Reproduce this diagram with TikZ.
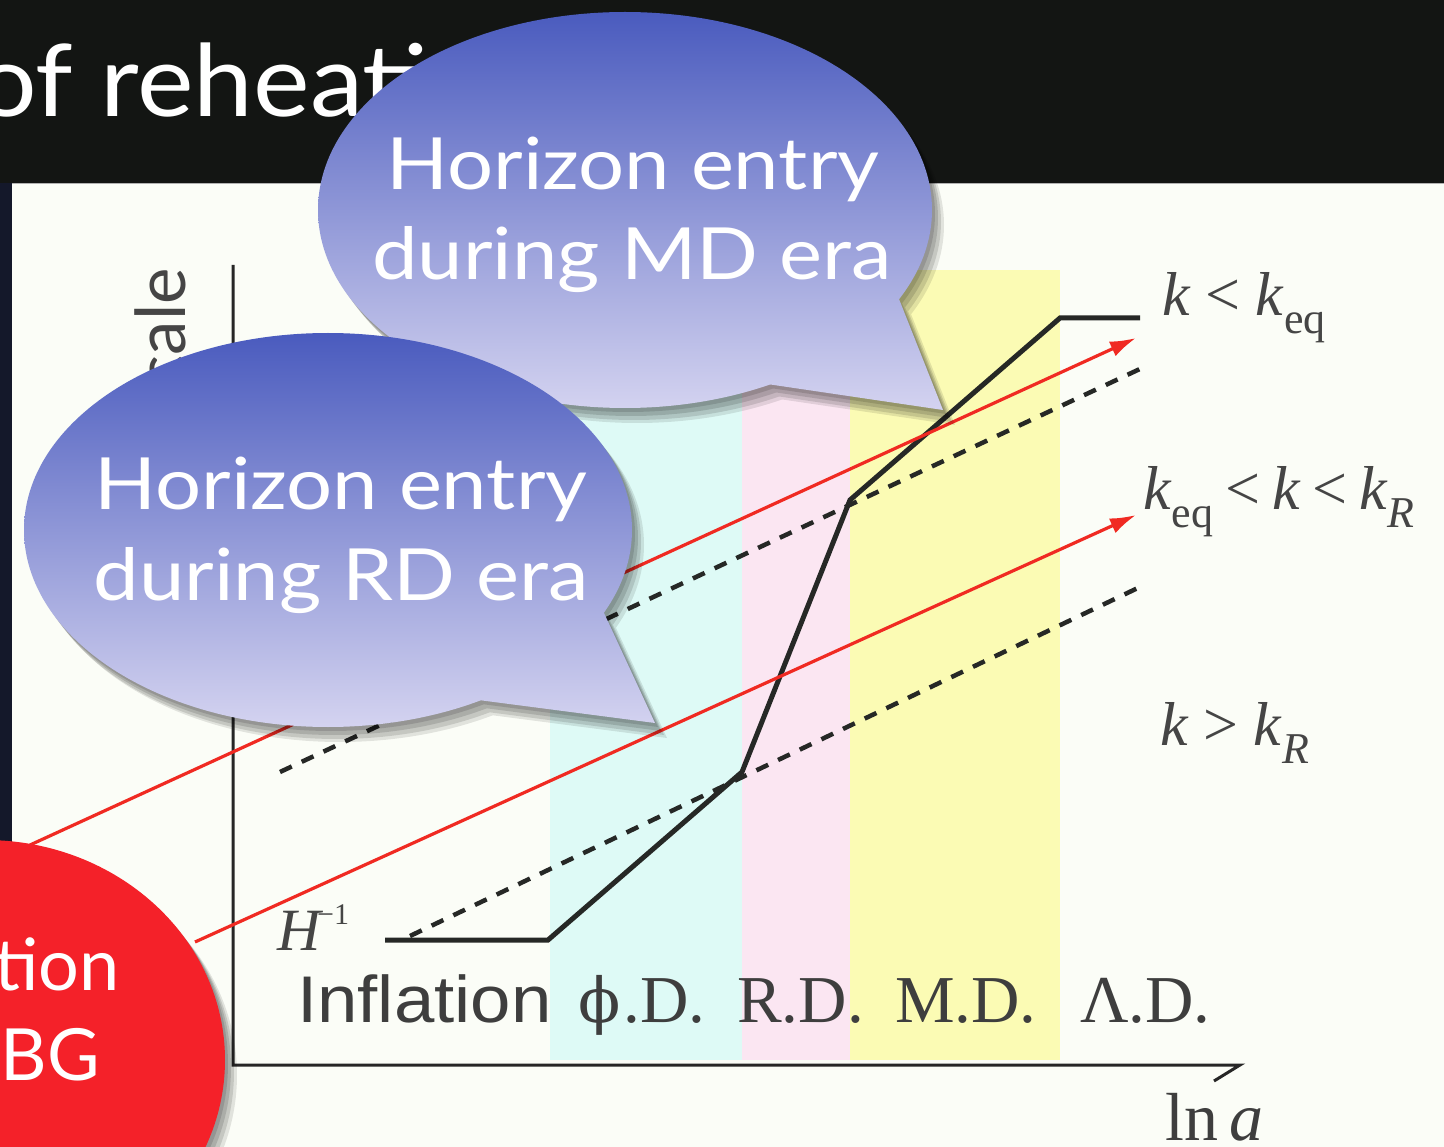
\documentclass[tikz,border=0pt]{standalone}
\usepackage{fontspec}
\setmainfont{Liberation Serif}
\newfontfamily\gillf{Lato}
\newfontfamily\arialf{Liberation Sans}
\newfontfamily\djs{DejaVu Serif}
\usetikzlibrary{shapes.callouts,shapes.geometric,arrows.meta,shadows}
\definecolor{topbk}{HTML}{131513}
\definecolor{leftbk}{HTML}{14182A}
\definecolor{paper}{HTML}{FBFDF7}
\definecolor{cyanband}{HTML}{DEFAF6}
\definecolor{pinkband}{HTML}{FBE6F2}
\definecolor{yellowband}{HTML}{FBFBB4}
\definecolor{bubtop}{HTML}{4A5BBE}
\definecolor{bubbot}{HTML}{D4D3F0}
\definecolor{redb}{HTML}{F42129}
\definecolor{redline}{HTML}{F02A22}
\definecolor{labgray}{HTML}{454545}
\definecolor{curvebk}{HTML}{262826}
\newcommand\kit{\textit{k}}
\newcommand\subx[1]{\raisebox{-18pt}{\fontsize{44}{44}\selectfont #1}}
\newcommand\wide[1]{\scalebox{1.13}[1]{#1}}
\begin{document}
\begin{tikzpicture}[x=1pt,y=-1pt,
  bshadow/.style={
    general shadow={shadow xshift=3pt,shadow yshift=-4pt,fill=black,opacity=0.13},
    general shadow={shadow xshift=6pt,shadow yshift=-8pt,fill=black,opacity=0.13},
    general shadow={shadow xshift=9pt,shadow yshift=-12pt,fill=black,opacity=0.12},
    general shadow={shadow xshift=12pt,shadow yshift=-15pt,fill=black,opacity=0.10}},
  bubble/.style={ellipse callout, callout pointer arc=35, inner sep=0pt,
    top color=bubtop, bottom color=bubbot, draw=none, bshadow},
  btext/.style={text=white, font=\gillf\fontsize{72}{72}\selectfont, inner sep=0pt, anchor=base},
  klab/.style={text=labgray, font=\fontsize{62}{62}\selectfont, inner sep=0pt, anchor=base west},
  era/.style={text=labgray!90!black, font=\fontsize{67}{67}\selectfont, inner sep=0pt, anchor=base west},
  axisline/.style={draw=black!85, line width=3pt},
  hcurve/.style={draw=curvebk, line width=5pt, line join=miter},
  dashline/.style={draw=curvebk, line width=4.5pt, dash pattern=on 13pt off 11pt},
  redarrow/.style={draw=redline, line width=3.2pt, -{Latex[length=26pt,width=16pt]}}
]
\useasboundingbox (0,0) rectangle (1444,1147);
% backgrounds
\fill[paper] (0,0) rectangle (1444,1147);
\fill[topbk] (0,0) rectangle (1444,183);
\fill[leftbk] (0,183) rectangle (12,870);
\draw[gray!60, line width=1.5pt] (12,183.5) -- (1444,183.5);
% era bands
\fill[cyanband] (550,270) rectangle (742,1060);
\fill[pinkband] (742,270) rectangle (850,1060);
\fill[yellowband] (850,270) rectangle (1060,1060);
% title
\node[anchor=base west, text=white, font=\gillf\fontsize{100}{100}\selectfont, inner sep=0pt] (title) at (-24,117) {\scalebox{1.07}[1]{of reheating}};
% axes
\draw[axisline] (233,265) -- (233,1065) -- (1240,1065) -- (1214,1081);
\node[rotate=90, anchor=base east, text=labgray, font=\gillf\fontsize{69}{69}\selectfont, inner sep=0pt] (ylab) at (185,268) {scale};
% coordinates
\coordinate (h0) at (385,940);
\coordinate (h1) at (548,940);
\coordinate (h2) at (742,772);
\coordinate (h3) at (850,500);
\coordinate (h4) at (1060,318);
\coordinate (h5) at (1140,318);
\coordinate (d1a) at (410,936);
\coordinate (d1b) at (1142,586);
\coordinate (d2a) at (280,772);
\coordinate (d2b) at (1142,368);
\coordinate (r1a) at (30,845);
\coordinate (r1b) at (1136,338);
\coordinate (r2a) at (195,942);
\coordinate (r2b) at (1136,515);
% lines
\draw[dashline] (d1a) -- (d1b);
\draw[dashline] (d2a) -- (d2b);
\draw[hcurve] (h0) -- (h1) -- (h2) -- (h3) -- (h4) -- (h5);
\draw[redarrow] (r1a) -- (r1b);
\draw[redarrow] (r2a) -- (r2b);
% labels
\node[klab] (lab1) at (1162,316) {\kit\hspace{15pt}<\hspace{15pt}\kit\subx{eq}};
\node[klab] (lab2) at (1143,510) {\kit\subx{eq}\hspace{12pt}<\hspace{12pt}\kit\hspace{12pt}<\hspace{12pt}\kit\subx{\textit{R}}};
\node[klab] (lab3) at (1160,745) {\kit\hspace{15pt}>\hspace{15pt}\kit\subx{\textit{R}}};
\node[klab, font=\fontsize{60}{60}\selectfont] (hinv) at (277,950) {\textit{H}\kern-6pt\raisebox{26pt}{\fontsize{30}{30}\selectfont −1}};
\node[era, font=\arialf\fontsize{66}{66}\selectfont] (infl) at (297,1022) {\scalebox{1.1}[1]{Inflation}};
\node[era] (phid) at (578,1022) {{\djs\fontsize{62}{62}\selectfont ϕ}\kern3pt.D.};
\node[era] (rdl) at (737,1022) {R.D.};
\node[era] (mdl) at (895,1022) {M.D.};
\node[era] (ldl) at (1080,1022) {Λ.D.};
\node[era, font=\fontsize{68}{68}\selectfont] (lna) at (1165,1140) {ln\,\textit{a}};
% bubbles
\node[bubble, callout absolute pointer={(943,410)}, minimum width=614pt, minimum height=396pt] (md) at (625,210) {};
\node[btext] (mdt1) at (633,190) {\wide{Horizon entry}};
\node[btext] (mdt2) at (632,280) {\wide{during MD era}};
\node[bubble, callout absolute pointer={(655,723)}, minimum width=608pt, minimum height=394pt] (rd) at (328,530) {};
\node[btext] (rdt1) at (341,510) {\wide{Horizon entry}};
\node[btext] (rdt2) at (341,600) {\wide{during RD era}};
\node[ellipse, fill=redb, draw=none, minimum width=480pt, minimum height=440pt, inner sep=0pt, bshadow] (obs) at (-15,1060) {};
\node[btext, anchor=base east] (obst1) at (120,990) {tion};
\node[btext, anchor=base east] (obst2) at (100,1080) {BG};
\end{tikzpicture}
\end{document}
